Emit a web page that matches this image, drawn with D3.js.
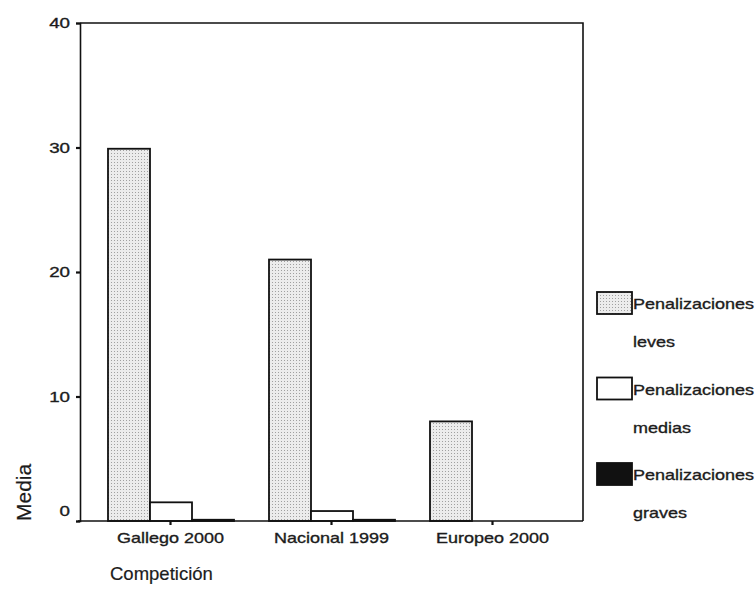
<!DOCTYPE html>
<html>
<head>
<meta charset="utf-8">
<script src="https://cdn.jsdelivr.net/npm/d3@7"></script>
<style>
  body { margin: 0; background: #fff; }
  svg text { font-family: Arial, "Liberation Sans", sans-serif; fill: #1c1c1c; stroke: #1c1c1c; stroke-width: 0.35px; }
</style>
</head>
<body>
<svg id="chart" width="756" height="607"></svg>
<script>
// datos
const categories = ["Gallego 2000", "Nacional 1999", "Europeo 2000"];
const seriesNames = ["Penalizaciones leves", "Penalizaciones medias", "Penalizaciones graves"];
const leves = [29.9, 21.0, 8.0];
const medias = [1.5, 0.8, 0.0];
const graves = [0.1, 0.1, 0.0];
const yTicks = [0, 10, 20, 30, 40];

const values = [leves, medias, graves];

const svg = d3.select("#chart");
const mLeft = 80, mRight = 583, mTop = 23, mBottom = 521;

// el escaneo original ensancha el texto
function stretch(sel, k) {
  sel.each(function () {
    const w = this.getComputedTextLength();
    d3.select(this).attr("textLength", w * k).attr("lengthAdjust", "spacingAndGlyphs");
  });
}

// patrón punteado para las barras grises
const defs = svg.append("defs");
const pat = defs.append("pattern")
  .attr("id", "dots")
  .attr("width", 3).attr("height", 3)
  .attr("patternUnits", "userSpaceOnUse");
pat.append("rect").attr("width", 3).attr("height", 3).attr("fill", "#ececec");
pat.append("rect").attr("width", 1).attr("height", 1).attr("fill", "#a0a0a0");

const fills = ["url(#dots)", "#ffffff", "#111111"];

const x0 = d3.scaleBand().domain(categories).range([90, 573]);
const x1 = d3.scaleBand().domain(seriesNames).range([18, 144]);
const y = d3.scaleLinear().domain([0, 40]).range([mBottom, mTop]);

// barras
const groups = svg.append("g")
  .selectAll("g")
  .data(categories)
  .join("g")
  .attr("transform", d => `translate(${x0(d)},0)`);

groups.selectAll("rect")
  .data((d, i) => seriesNames.map((s, j) => ({ s, j, v: values[j][i] })).filter(d => d.v > 0))
  .join("rect")
  .attr("x", d => x1(d.s))
  .attr("y", d => y(d.v))
  .attr("width", x1.bandwidth())
  .attr("height", d => y(0) - y(d.v))
  .attr("fill", d => fills[d.j])
  .attr("stroke", "#111")
  .attr("stroke-width", 1.8);

// marco superior y derecho
svg.append("path")
  .attr("d", `M${mLeft},${mTop}H${mRight}V${mBottom}`)
  .attr("fill", "none")
  .attr("stroke", "#111")
  .attr("stroke-width", 1.6);

// eje Y
const yAxis = svg.append("g")
  .attr("transform", `translate(${mLeft},0)`)
  .call(d3.axisLeft(y).tickValues(yTicks).tickSize(4).tickPadding(6));
yAxis.select(".domain").attr("stroke", "#111").attr("stroke-width", 1.6);
yAxis.selectAll(".tick line").attr("stroke", "#111").attr("stroke-width", 2.2);
yAxis.selectAll(".tick text")
  .attr("font-size", 15)
  .attr("y", d => d === 0 ? -10 : 0)
  .call(stretch, 1.25);

// eje X
const xAxis = svg.append("g")
  .attr("transform", `translate(0,${mBottom})`)
  .call(d3.axisBottom(x0).tickSize(4).tickPadding(7).tickSizeOuter(0));
xAxis.select(".domain").attr("d", `M${mLeft - 2},0H${mRight}`).attr("stroke", "#111").attr("stroke-width", 1.6);
xAxis.selectAll(".tick line").attr("stroke", "#111").attr("stroke-width", 2.2);
xAxis.selectAll(".tick text").attr("font-size", 15).call(stretch, 1.2);

// títulos de ejes
svg.append("text")
  .attr("transform", `translate(31,${mBottom}) rotate(-90)`)
  .attr("font-size", 21)
  .style("stroke-width", "0.2px")
  .text("Media");

svg.append("text")
  .attr("x", 110).attr("y", 580)
  .attr("font-size", 18.5)
  .style("stroke-width", "0.2px")
  .text("Competición");

// leyenda
const legend = svg.append("g")
  .selectAll("g")
  .data(seriesNames)
  .join("g")
  .attr("transform", (d, i) => `translate(597,${292 + i * 85.5})`);

legend.append("rect")
  .attr("width", 35).attr("height", 22)
  .attr("fill", (d, i) => fills[i])
  .attr("stroke", "#111")
  .attr("stroke-width", 1.8);

legend.append("text")
  .attr("x", 36).attr("y", 17)
  .attr("font-size", 15)
  .text(d => d.split(" ")[0])
  .call(stretch, 1.2);

legend.append("text")
  .attr("x", 36).attr("y", 55)
  .attr("font-size", 15)
  .text(d => d.split(" ")[1])
  .call(stretch, 1.2);
</script>
</body>
</html>
